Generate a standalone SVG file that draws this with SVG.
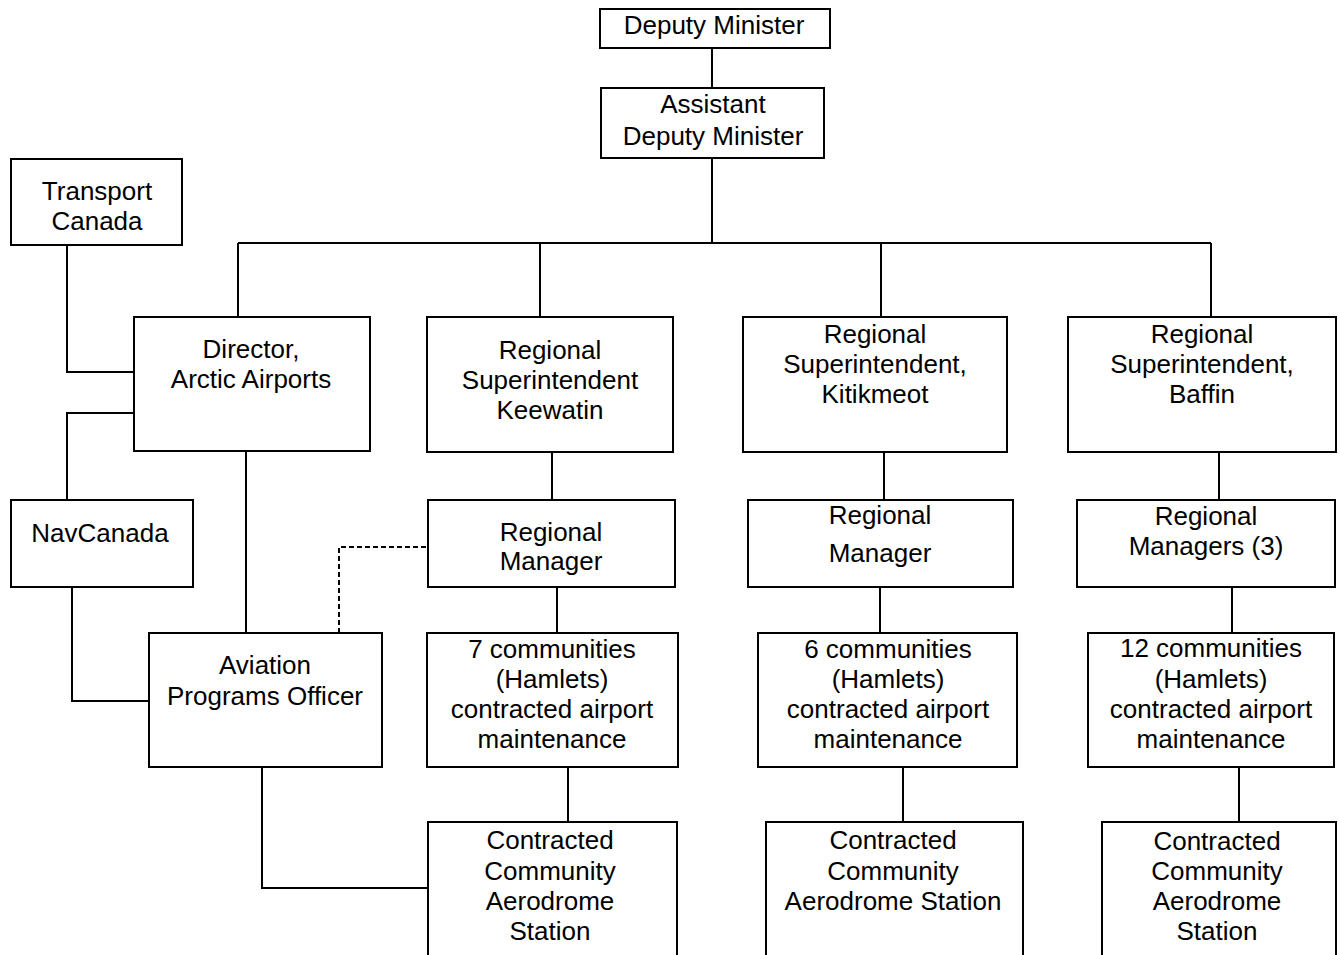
<svg xmlns="http://www.w3.org/2000/svg" width="1340" height="955" viewBox="0 0 1340 955">
<style>
rect{fill:#fff;stroke:#000;stroke-width:2}
text{font-family:"Liberation Sans",Arial,sans-serif;font-size:26px;fill:#000;text-anchor:middle}
.c path{fill:none;stroke:#000;stroke-width:2}
.c .d{stroke-dasharray:5 3}
</style>
<rect x="0" y="0" width="1340" height="955" style="stroke:none"/>
<g class="c" id="connectors">
<path d="M712,48V88"/>
<path d="M712,158V243"/>
<path d="M238,243H1211"/>
<path d="M238,243V317"/>
<path d="M540,243V317"/>
<path d="M881,243V317"/>
<path d="M1211,243V317"/>
<path d="M67,244V372H134"/>
<path d="M134,413H67V500"/>
<path d="M72,587V701H149"/>
<path d="M246,451V633"/>
<path class="d" d="M339,633V547H428"/>
<path d="M262,767V888H428"/>
<path d="M552,452V500"/>
<path d="M557,587V633"/>
<path d="M568,767V822"/>
<path d="M884,452V500"/>
<path d="M880,587V633"/>
<path d="M903,767V822"/>
<path d="M1219,452V500"/>
<path d="M1232,587V633"/>
<path d="M1239,767V822"/>
</g>
<g id="deputy-minister"><rect x="600" y="9" width="230" height="39"/><text x="714" y="34">Deputy Minister</text></g>
<g id="assistant-deputy-minister"><rect x="601" y="88" width="223" height="70"/><text x="713" y="113">Assistant</text><text x="713" y="145">Deputy Minister</text></g>
<g id="transport-canada"><rect x="11" y="159" width="171" height="86"/><text x="97" y="200">Transport</text><text x="97" y="230">Canada</text></g>
<g id="director"><rect x="134" y="317" width="236" height="134"/><text x="251" y="358">Director,</text><text x="251" y="388">Arctic Airports</text></g>
<g id="navcanada"><rect x="11" y="500" width="182" height="87"/><text x="100" y="542">NavCanada</text></g>
<g id="aviation-programs-officer"><rect x="149" y="633" width="233" height="134"/><text x="265" y="674">Aviation</text><text x="265" y="705">Programs Officer</text></g>
<g id="rs-keewatin"><rect x="427" y="317" width="246" height="135"/><text x="550" y="359">Regional</text><text x="550" y="389">Superintendent</text><text x="550" y="419">Keewatin</text></g>
<g id="rm-keewatin"><rect x="428" y="500" width="247" height="87"/><text x="551" y="541">Regional</text><text x="551" y="570">Manager</text></g>
<g id="comm-7"><rect x="427" y="633" width="251" height="134"/><text x="552" y="658">7 communities</text><text x="552" y="688">(Hamlets)</text><text x="552" y="718">contracted airport</text><text x="552" y="748">maintenance</text></g>
<g id="station-1"><rect x="428" y="822" width="249" height="140"/><text x="550" y="849">Contracted</text><text x="550" y="880">Community</text><text x="550" y="910">Aerodrome</text><text x="550" y="940">Station</text></g>
<g id="rs-kitikmeot"><rect x="743" y="317" width="264" height="135"/><text x="875" y="343">Regional</text><text x="875" y="373">Superintendent,</text><text x="875" y="403">Kitikmeot</text></g>
<g id="rm-kitikmeot"><rect x="748" y="500" width="265" height="87"/><text x="880" y="524">Regional</text><text x="880" y="562">Manager</text></g>
<g id="comm-6"><rect x="758" y="633" width="259" height="134"/><text x="888" y="658">6 communities</text><text x="888" y="688">(Hamlets)</text><text x="888" y="718">contracted airport</text><text x="888" y="748">maintenance</text></g>
<g id="station-2"><rect x="766" y="822" width="257" height="140"/><text x="893" y="849">Contracted</text><text x="893" y="880">Community</text><text x="893" y="910">Aerodrome Station</text></g>
<g id="rs-baffin"><rect x="1068" y="317" width="268" height="135"/><text x="1202" y="343">Regional</text><text x="1202" y="373">Superintendent,</text><text x="1202" y="403">Baffin</text></g>
<g id="rm-baffin"><rect x="1077" y="500" width="258" height="87"/><text x="1206" y="525">Regional</text><text x="1206" y="555">Managers (3)</text></g>
<g id="comm-12"><rect x="1088" y="633" width="246" height="134"/><text x="1211" y="657">12 communities</text><text x="1211" y="688">(Hamlets)</text><text x="1211" y="718">contracted airport</text><text x="1211" y="748">maintenance</text></g>
<g id="station-3"><rect x="1102" y="822" width="234" height="140"/><text x="1217" y="850">Contracted</text><text x="1217" y="880">Community</text><text x="1217" y="910">Aerodrome</text><text x="1217" y="940">Station</text></g>
</svg>
